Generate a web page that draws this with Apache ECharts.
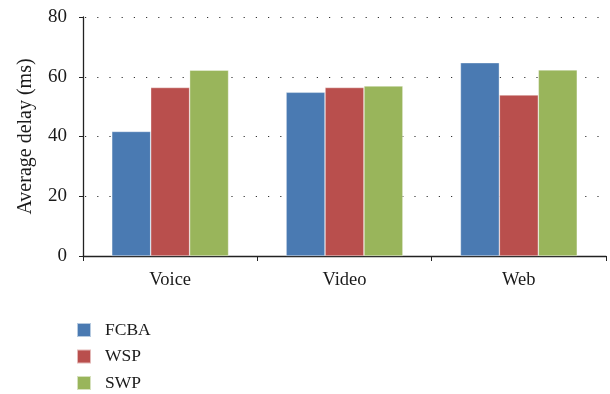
<!DOCTYPE html>
<html>
<head>
<meta charset="utf-8">
<script src="https://cdn.jsdelivr.net/npm/echarts@6/dist/echarts.min.js"></script>
<style>
  html, body { margin: 0; padding: 0; background: #fff; }
  #chart { width: 610px; height: 394px; }
</style>
</head>
<body>
<div id="chart"></div>
<script>
// Traffic classes on the x-axis
const categories = ['Voice', 'Video', 'Web'];

// Average delay (ms) per scheme
const fcba = [41.7, 54.8, 64.7];
const wsp  = [56.4, 56.4, 53.9];
const swp  = [62.2, 56.9, 62.3];

const yTicks = [0, 20, 40, 60, 80];

const serif = '"Liberation Serif", "DejaVu Serif", serif';
const colors = ['#4a7ab2', '#b94f4d', '#99b55b'];

const chart = echarts.init(document.getElementById('chart'), null, { renderer: 'canvas' });

const barSeries = (name, data, color) => ({
  name: name,
  type: 'bar',
  data: data,
  barGap: '0%',
  barCategoryGap: '33%',
  itemStyle: { color: color, borderColor: 'rgba(255,255,255,0.6)', borderWidth: 0.6 },
  emphasis: { disabled: true }
});

chart.setOption({
  animation: false,
  backgroundColor: '#ffffff',
  textStyle: { fontFamily: serif },
  grid: { left: 83, right: 4, top: 17, bottom: 138, containLabel: false },
  legend: {
    orient: 'vertical',
    left: 71,
    top: 316,
    height: 80,
    itemWidth: 14,
    itemHeight: 14,
    itemGap: 8.5,
    icon: 'rect',
    textStyle: { fontFamily: serif, fontSize: 17.5, lineHeight: 14, color: '#1a1a1a', padding: [0, 0, 0, 9] },
    data: ['FCBA', 'WSP', 'SWP']
  },
  xAxis: {
    type: 'category',
    data: categories,
    axisLine: { lineStyle: { color: '#222', width: 1.3 } },
    axisTick: { show: true, length: 5, inside: false, lineStyle: { color: '#222' } },
    axisLabel: { fontFamily: serif, fontSize: 18.5, color: '#1a1a1a', margin: 15 },
    splitLine: { show: false }
  },
  yAxis: {
    type: 'value',
    min: yTicks[0],
    max: yTicks[yTicks.length - 1],
    interval: 20,
    name: 'Average delay (ms)',
    nameLocation: 'middle',
    nameGap: 47,
    nameTextStyle: { fontFamily: serif, fontSize: 20, color: '#1a1a1a' },
    axisLine: { show: true, lineStyle: { color: '#222', width: 1.3 } },
    axisTick: { show: true, length: 4, lineStyle: { color: '#222' } },
    axisLabel: { fontFamily: serif, fontSize: 19, color: '#1a1a1a', margin: 16 },
    splitLine: { show: true, lineStyle: { color: '#333', width: 1, type: [1.2, 11], dashOffset: -2 } }
  },
  series: [
    barSeries('FCBA', fcba, colors[0]),
    barSeries('WSP', wsp, colors[1]),
    barSeries('SWP', swp, colors[2])
  ]
});
</script>
</body>
</html>
